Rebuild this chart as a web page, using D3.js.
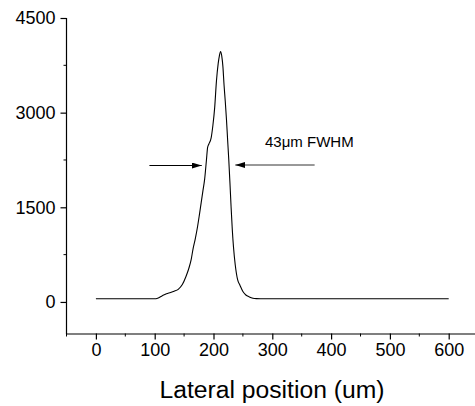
<!DOCTYPE html>
<html>
<head>
<meta charset="utf-8">
<script src="https://cdn.jsdelivr.net/npm/d3@7"></script>
<style>
  html, body { margin: 0; padding: 0; background: #fff; }
  svg { display: block; font-family: "Liberation Sans", Arial, sans-serif; }
</style>
</head>
<body>
<svg id="chart" width="475" height="406"></svg>
<script>
// ---- data ----
const positions = [0, 50, 100, 105, 113, 120, 127, 133, 140, 147, 153, 158, 162, 165, 169, 173, 176, 179, 182, 185, 188, 190, 192, 196, 199, 202, 205, 208, 210, 212, 214, 216, 218, 220, 222, 224, 226, 228, 230, 232, 234, 237, 241, 245, 250, 255, 261, 267, 273, 280, 300, 400, 500, 600];
const intensity = [50, 50, 50, 60, 100, 130, 150, 170, 200, 275, 400, 530, 670, 830, 1000, 1200, 1380, 1570, 1760, 1950, 2250, 2450, 2500, 2600, 2800, 3080, 3500, 3780, 3900, 3970, 3900, 3730, 3430, 3180, 2900, 2570, 2250, 1880, 1490, 1140, 870, 585, 353, 265, 165, 110, 80, 60, 52, 50, 50, 50, 50, 50];
const xTicks = [0, 100, 200, 300, 400, 500, 600];
const xMinorTicks = [-50, 50, 150, 250, 350, 450, 550, 650];
const yTicks = [0, 1500, 3000, 4500];
const yMinorTicks = [750, 2250, 3750];
const xTitle = "Lateral position (um)";
const annotationText = "43\u03bcm FWHM";
const leftArrow = { from: 91, to: 180, y: 2178 };
const rightArrow = { from: 372, to: 237, y: 2165 };

// ---- scales ----
const svg = d3.select("#chart");
const x = d3.scaleLinear().domain([-50, 650]).range([66.5, 66.5 + 700 * 0.588]);
const y = d3.scaleLinear().domain([-500, 4500]).range([333.5, 18]);

// ---- axes ----
const xAxis = svg.append("g").attr("transform", `translate(0,${y(-500)})`);
xAxis.call(d3.axisBottom(x).tickValues(xTicks).tickSize(6).tickSizeOuter(0).tickFormat(d3.format("d")));
xAxis.append("g").selectAll("line").data(xMinorTicks).join("line")
  .attr("x1", d => x(d)).attr("x2", d => x(d)).attr("y1", 0).attr("y2", 3)
  .attr("stroke", "#000");
xAxis.select(".domain").attr("d", `M${x(-50)},0.5H${x(650)}`);

const yAxis = svg.append("g").attr("transform", `translate(${x(-50)},0)`);
yAxis.call(d3.axisLeft(y).tickValues(yTicks).tickSize(6).tickSizeOuter(0).tickFormat(d3.format("d")));
yAxis.append("g").selectAll("line").data(yMinorTicks).join("line")
  .attr("y1", d => y(d)).attr("y2", d => y(d)).attr("x1", 0).attr("x2", -3)
  .attr("stroke", "#000");
yAxis.select(".domain").attr("d", `M0,${y(4500)}V${y(-500) + 0.5}`);

svg.selectAll(".domain, .tick line").attr("stroke", "#000").attr("stroke-width", 1.2);
svg.selectAll(".tick text").attr("fill", "#000").style("font-size", "18px")
  .style("font-family", '"Liberation Sans", Arial, sans-serif');
xAxis.selectAll(".tick text").attr("dy", "0.71em").attr("y", 10);
yAxis.selectAll(".tick text").attr("x", -11);

// axis title
svg.append("text")
  .attr("x", 272).attr("y", 397.5)
  .attr("text-anchor", "middle")
  .style("font-size", "24.7px")
  .attr("fill", "#000")
  .text(xTitle);

// ---- curve ----
const pts = positions.map((p, i) => [p, intensity[i]]);
svg.append("path")
  .datum(pts)
  .attr("fill", "none")
  .attr("stroke", "#000")
  .attr("stroke-width", 1.1)
  .attr("d", d3.line().x(d => x(d[0])).y(d => y(d[1])).curve(d3.curveMonotoneX));

// ---- annotation ----
const defs = svg.append("defs");
defs.append("marker")
  .attr("id", "ah")
  .attr("viewBox", "0 0 10 6")
  .attr("refX", 10).attr("refY", 3)
  .attr("markerWidth", 10).attr("markerHeight", 6)
  .attr("markerUnits", "userSpaceOnUse")
  .attr("orient", "auto")
  .append("path").attr("d", "M0,0L10,3L0,6Z").attr("fill", "#000");

[leftArrow, rightArrow].forEach((a, i) => {
  const yy = Math.round(y(a.y)) + (i === 0 ? 0.5 : 0);
  svg.append("line")
    .attr("x1", x(a.from)).attr("x2", x(a.to))
    .attr("y1", yy).attr("y2", yy)
    .attr("stroke", i === 0 ? "#000" : "#333").attr("stroke-width", 1)
    .attr("marker-end", "url(#ah)");
});

svg.append("text")
  .attr("x", 265).attr("y", 146.5)
  .style("font-size", "15px")
  .attr("fill", "#000")
  .text(annotationText);
</script>
</body>
</html>
